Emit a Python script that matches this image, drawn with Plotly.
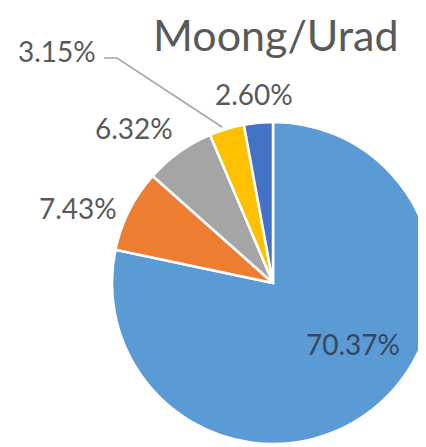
import plotly.graph_objects as go


TITULO = "Moong/Urad"
SEGMENTOS = ["s1", "s2", "s3", "s4", "s5"]
PORCENTAJES = [70.37, 7.43, 6.32, 3.15, 2.60]
COLORES = ["#5B9BD5", "#ED7D31", "#A5A5A5", "#FFC000", "#4472C4"]

ANCHO = 426
ALTO = 447
# el body de la pagina tiene un margen de 8px
DESPLAZAMIENTO = 8


def px(x, y):
    # pixeles de pantalla -> coordenadas paper
    x = x - DESPLAZAMIENTO
    y = y - DESPLAZAMIENTO
    return x / ANCHO, 1 - y / ALTO


def main():

    fig = go.Figure(
        go.Pie(
            labels=SEGMENTOS,
            values=PORCENTAJES,
            marker_colors=COLORES,
            marker_line_color="#FFFFFF",
            marker_line_width=2.5,
            sort=False,
            direction="clockwise",
            rotation=0,
            textinfo="none",
            hoverinfo="label+value",
            domain_x=[104 / ANCHO, 1.0],
            domain_y=[11 / ALTO, 333 / ALTO],
        )
    )

    # posiciones de las etiquetas (centro del texto, en pixeles)
    posiciones = [(353, 344), (78, 208), (134, 128), (57, 51), (254, 94)]
    colores_texto = ["#34475E", "#595959", "#595959", "#595959", "#595959"]

    for valor, (x, y), color in zip(PORCENTAJES, posiciones, colores_texto):
        xp, yp = px(x, y)
        fig.add_annotation(
            x=xp, y=yp, xref="paper", yref="paper",
            xanchor="center", yanchor="middle",
            text=f"{valor:.2f}%",
            showarrow=False,
            font=dict(family="Lato", size=28, color=color),
        )

    # linea guia de la etiqueta 3.15%
    x0, y0 = px(104, 58)
    x1, y1 = px(117, 58)
    x2, y2 = px(222, 127)
    fig.add_shape(
        type="path", xref="paper", yref="paper",
        path=f"M {x0} {y0} L {x1} {y1} L {x2} {y2}",
        line=dict(color="#A6A6A6", width=1.5),
    )

    # titulo como anotacion, pegado al borde superior
    xt, _ = px(276, 0)
    fig.add_annotation(
        x=xt, y=1.0, xref="paper", yref="paper",
        xanchor="center", yanchor="top",
        text=TITULO,
        showarrow=False,
        borderpad=0,
        font=dict(family="Lato", size=43, color="#595959"),
    )

    fig.update_layout(
        width=ANCHO,
        height=ALTO,
        showlegend=False,
        margin=dict(l=0, r=0, t=0, b=0),
        paper_bgcolor="#FFFFFF",
        plot_bgcolor="#FFFFFF",
    )

    fig.write_html("out.html")


if __name__ == "__main__":

    main()
